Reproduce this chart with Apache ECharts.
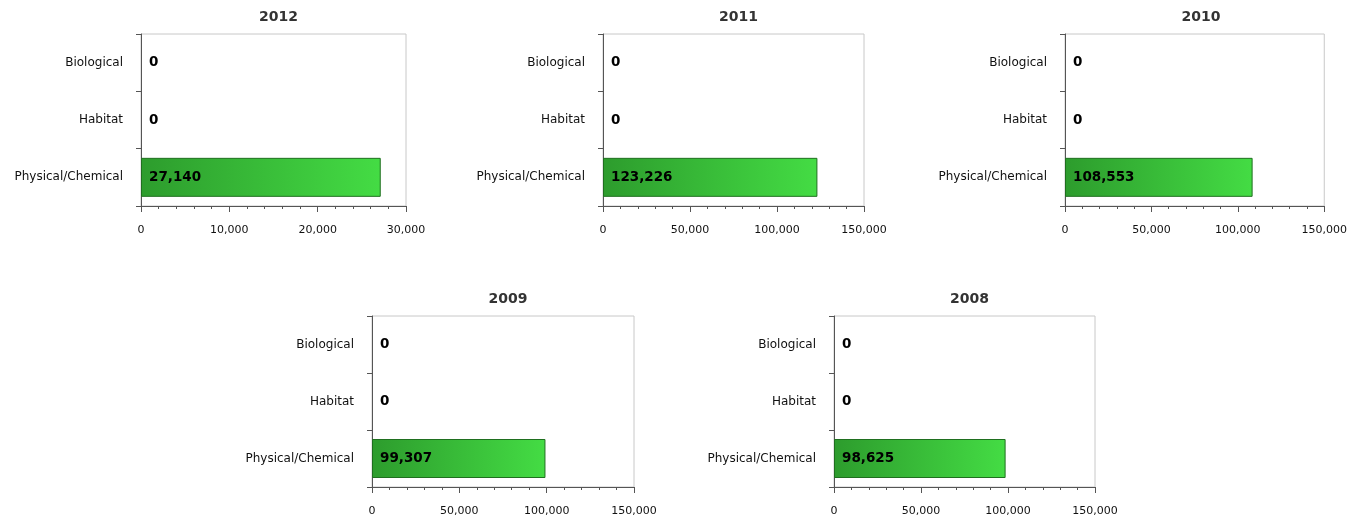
<!DOCTYPE html>
<html>
<head>
<meta charset="utf-8">
<script src="https://cdn.jsdelivr.net/npm/echarts@6/dist/echarts.min.js"></script>
<style>
html,body{margin:0;padding:0;background:#fff;}
#c{width:1350px;height:519px;}
</style>
</head>
<body>
<div id="c"></div>
<script>
const categories = ['Physical/Chemical', 'Habitat', 'Biological'];
const years = ['2012', '2011', '2010', '2009', '2008'];
const values2012 = [27140, 0, 0];
const values2011 = [123226, 0, 0];
const values2010 = [108553, 0, 0];
const values2009 = [99307, 0, 0];
const values2008 = [98625, 0, 0];
const axisMax = [30000, 150000, 150000, 150000, 150000];
const axisInterval = [10000, 50000, 50000, 50000, 50000];

const seriesValues = [values2012, values2011, values2010, values2009, values2008];
const grids = [
  {left: 141, top: 34, width: 265, height: 172},
  {left: 603, top: 34, width: 261, height: 172},
  {left: 1065, top: 34, width: 262, height: 172},
  {left: 372, top: 316, width: 262, height: 171},
  {left: 834, top: 316, width: 261, height: 171}
];

const fmt = v => v.toLocaleString('en-US');
const font = 'DejaVu Sans';

const option = {
  animation: false,
  backgroundColor: '#fff',
  title: years.map((y, i) => ({
    text: y,
    left: grids[i].left + grids[i].width / 2,
    top: grids[i].top - 29,
    textAlign: 'center',
    textStyle: {fontFamily: font, fontSize: 14, fontWeight: 'bold', color: '#333'}
  })),
  grid: grids.map(g => Object.assign({show: true, borderColor: '#c8c8c8', borderWidth: 1, containLabel: false}, g)),
  xAxis: years.map((y, i) => ({
    type: 'value',
    gridIndex: i,
    min: 0,
    max: axisMax[i],
    interval: axisInterval[i],
    axisLine: {show: true, lineStyle: {color: '#555', width: 1}},
    axisTick: {show: true, length: 6, lineStyle: {color: '#555'}},
    minorTick: {show: true, splitNumber: 5, length: 3, lineStyle: {color: '#555'}},
    splitLine: {show: false},
    axisLabel: {fontFamily: font, fontSize: 11, color: '#111', margin: 19, formatter: v => fmt(v)}
  })),
  yAxis: years.map((y, i) => ({
    type: 'category',
    gridIndex: i,
    data: categories,
    axisLine: {show: true, lineStyle: {color: '#555', width: 1}},
    axisTick: {show: true, length: 5, lineStyle: {color: '#555'}},
    axisLabel: {fontFamily: font, fontSize: 12, color: '#111', margin: 18}
  })),
  series: years.map((y, i) => ({
    type: 'bar',
    xAxisIndex: i,
    yAxisIndex: i,
    data: seriesValues[i].map(v => v === 0 ? {value: v, itemStyle: {borderWidth: 0, opacity: 0}} : v),
    barWidth: 39,
    itemStyle: {
      color: new echarts.graphic.LinearGradient(0, 0, 1, 0, [
        {offset: 0, color: '#2d9c2d'},
        {offset: 1, color: '#44dc44'}
      ]),
      borderColor: '#1f6f1f',
      borderWidth: 1
    },
    label: {
      show: true,
      position: 'insideLeft',
      distance: 8,
      fontFamily: font,
      fontSize: 13.5,
      fontWeight: 'bold',
      color: '#000',
      opacity: 1,
      formatter: p => fmt(p.value)
    }
  }))
};

echarts.init(document.getElementById('c')).setOption(option);
</script>
</body>
</html>
